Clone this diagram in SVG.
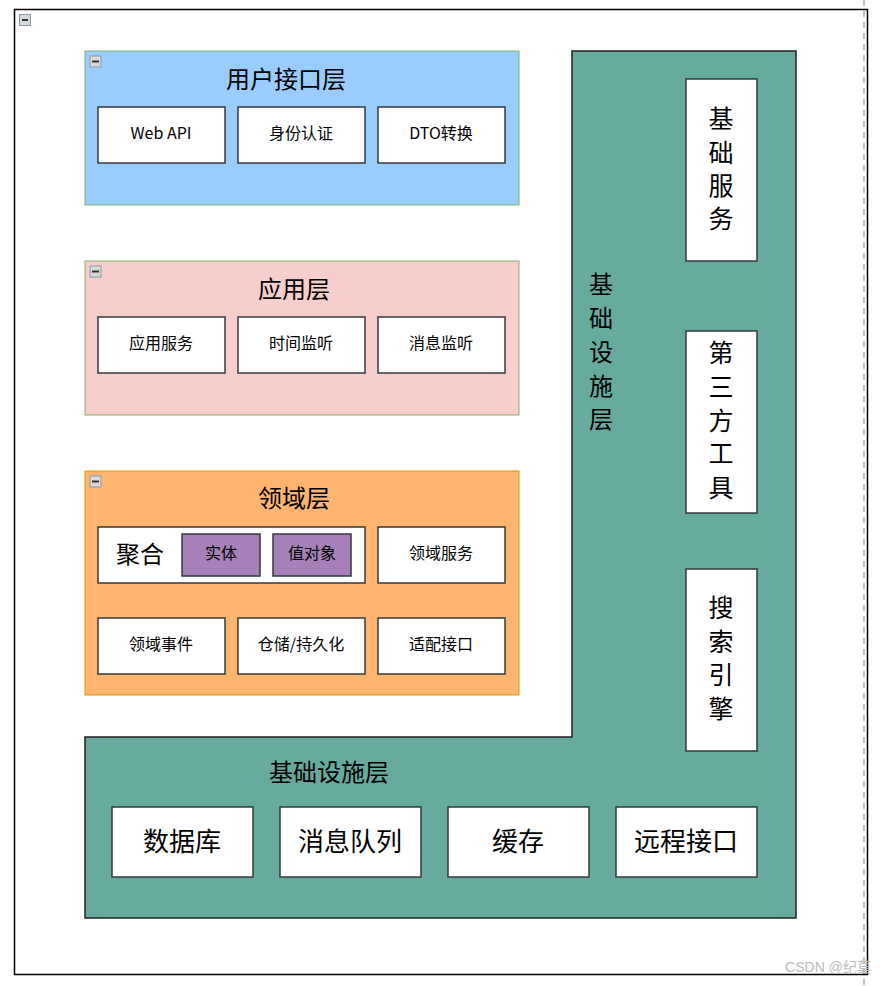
<svg xmlns="http://www.w3.org/2000/svg" width="880" height="986" viewBox="0 0 880 986">
<style>
text{font-family:"Noto Sans CJK SC","Liberation Sans",sans-serif;fill:#000;text-anchor:middle;dominant-baseline:central;transform:translateY(-3px)}
.w{fill:#fff;stroke:#36393d;stroke-width:1.5}
.t{font-size:16px}
.h{font-size:24px}
.b{font-size:26px}
.v{font-size:25px}
.icon{fill:#d8d8d8;stroke:#8899aa;stroke-width:1}
</style>
<rect width="880" height="986" fill="#fff"/>
<line x1="864" y1="0" x2="864" y2="986" stroke="#c0c0c0" stroke-width="2" stroke-dasharray="6,5"/>
<rect x="14.5" y="9.5" width="853" height="965" fill="none" stroke="#000" stroke-width="1.5"/>
<rect x="19.5" y="14.5" width="11" height="11" class="icon"/><line x1="22" y1="20" x2="28" y2="20" stroke="#333" stroke-width="2"/>
<g id="infra">
<polygon points="572,51 796,51 796,918 85,918 85,737 572,737" fill="#67ab9f" stroke="#222" stroke-width="1.5"/>
<text x="601" y="285" class="h">基</text><text x="601" y="319" class="h">础</text><text x="601" y="353" class="h">设</text><text x="601" y="387" class="h">施</text><text x="601" y="420" class="h">层</text>
<text x="329" y="773" class="h">基础设施层</text>
</g>
<g id="infra-basic"><rect x="686" y="79" width="71" height="182" class="w"/>
<text x="721" y="120" class="v">基</text><text x="721" y="154" class="v">础</text><text x="721" y="187" class="v">服</text><text x="721" y="220" class="v">务</text></g>
<g id="infra-tools"><rect x="686" y="331" width="71" height="182" class="w"/>
<text x="721" y="354" class="v">第</text><text x="721" y="388" class="v">三</text><text x="721" y="422" class="v">方</text><text x="721" y="455" class="v">工</text><text x="721" y="489" class="v">具</text></g>
<g id="infra-search"><rect x="686" y="569" width="71" height="182" class="w"/>
<text x="721" y="609" class="v">搜</text><text x="721" y="643" class="v">索</text><text x="721" y="676" class="v">引</text><text x="721" y="710" class="v">擎</text></g>
<g id="db"><rect x="112" y="807" width="141" height="70" class="w"/><text x="182" y="842" class="b">数据库</text></g>
<g id="mq"><rect x="280" y="807" width="141" height="70" class="w"/><text x="350" y="842" class="b">消息队列</text></g>
<g id="cache"><rect x="448" y="807" width="141" height="70" class="w"/><text x="518" y="842" class="b">缓存</text></g>
<g id="remote"><rect x="616" y="807" width="141" height="70" class="w"/><text x="686" y="842" class="b">远程接口</text></g>

<g id="ui">
<rect x="85" y="51" width="434" height="154" fill="#99ccff" stroke="#82b366"/>
<rect x="90" y="56" width="11" height="11" class="icon"/><line x1="92" y1="61.5" x2="99" y2="61.5" stroke="#333" stroke-width="2"/>
<text x="286" y="80" class="h">用户接口层</text>
<rect x="98" y="107" width="127" height="56" class="w"/><text x="161" y="135" class="t">Web API</text>
<rect x="238" y="107" width="127" height="56" class="w"/><text x="301" y="135" class="t">身份认证</text>
<rect x="378" y="107" width="127" height="56" class="w"/><text x="441" y="135" class="t">DTO转换</text>
</g>
<g id="app">
<rect x="85" y="261" width="434" height="154" fill="#f8cecc" stroke="#82b366"/>
<rect x="90" y="266" width="11" height="11" class="icon"/><line x1="92" y1="271.5" x2="99" y2="271.5" stroke="#333" stroke-width="2"/>
<text x="294" y="290" class="h">应用层</text>
<rect x="98" y="317" width="127" height="56" class="w"/><text x="161" y="345" class="t">应用服务</text>
<rect x="238" y="317" width="127" height="56" class="w"/><text x="301" y="345" class="t">时间监听</text>
<rect x="378" y="317" width="127" height="56" class="w"/><text x="441" y="345" class="t">消息监听</text>
</g>
<g id="domain">
<rect x="85" y="471" width="434" height="224" fill="#ffb570" stroke="#d79b00"/>
<rect x="90" y="476" width="11" height="11" class="icon"/><line x1="92" y1="481.5" x2="99" y2="481.5" stroke="#333" stroke-width="2"/>
<text x="294" y="499" class="h">领域层</text>
<rect x="98" y="527" width="267" height="56" class="w"/><text x="140" y="555" class="h">聚合</text>
<rect x="182" y="534" width="78" height="42" fill="#a680b8" stroke="#36393d" stroke-width="1.5"/><text x="221" y="555" class="t">实体</text>
<rect x="273" y="534" width="78" height="42" fill="#a680b8" stroke="#36393d" stroke-width="1.5"/><text x="312" y="555" class="t">值对象</text>
<rect x="378" y="527" width="127" height="56" class="w"/><text x="441" y="555" class="t">领域服务</text>
<rect x="98" y="618" width="127" height="56" class="w"/><text x="161" y="646" class="t">领域事件</text>
<rect x="238" y="618" width="127" height="56" class="w"/><text x="301" y="646" class="t">仓储/持久化</text>
<rect x="378" y="618" width="127" height="56" class="w"/><text x="441" y="646" class="t">适配接口</text>
</g>
<text x="828" y="970" style="font-size:14px;fill:#bbb;font-family:'Liberation Sans','Noto Sans CJK SC',sans-serif">CSDN @纪莫</text>
</svg>
